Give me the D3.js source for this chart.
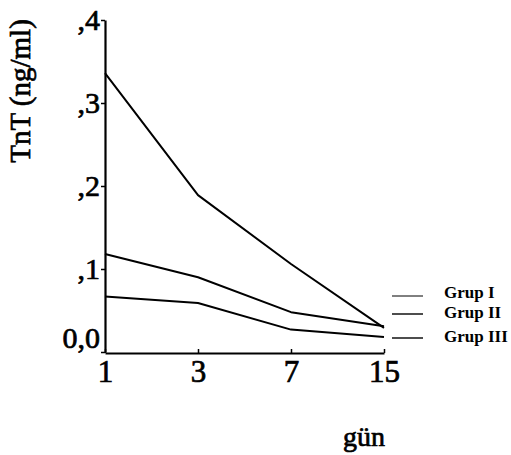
<!DOCTYPE html>
<html><head><meta charset="utf-8">
<script src="https://cdn.jsdelivr.net/npm/d3@7"></script>
<style>body{margin:0;background:#fff}svg{display:block}</style>
</head><body>
<script>
const days = ["1","3","7","15"];
const grup1 = [0.336, 0.189, 0.106, 0.029];
const grup2 = [0.118, 0.090, 0.048, 0.031];
const grup3 = [0.067, 0.059, 0.027, 0.018];
const seriesNames = ["Grup I","Grup II","Grup III"];
const yTicks = [0, 0.1, 0.2, 0.3, 0.4];
const yTickLabels = ["0,0", ",1", ",2", ",3", ",4"];

const W = 511, H = 455;
const svg = d3.select("body").append("svg").attr("width", W).attr("height", H);
const font = "'Liberation Serif', 'Times New Roman', serif";

const x = d3.scalePoint().domain(days).range([105, 384]);
const y = d3.scaleLinear().domain([0, 0.4]).range([352, 20]);

function heavy(sel, size){
  sel.style("font-family",font).style("font-size",size+"px").style("font-weight","normal")
    .attr("fill","#000").attr("stroke","#000").attr("stroke-width",0.7);
}

// y axis
const yAxis = svg.append("g").attr("transform", "translate(105,0)")
  .call(d3.axisLeft(y).tickValues(yTicks).tickFormat((d,i)=>yTickLabels[i]).tickSize(4).tickSizeOuter(0));
yAxis.select(".domain").attr("stroke","#000").attr("stroke-width",2.2);
yAxis.selectAll(".tick line").attr("stroke","#000").attr("stroke-width",1.5);
heavy(yAxis.selectAll(".tick text"), 30);
yAxis.selectAll(".tick text").attr("x",-5)
  .attr("dy",(d)=> d===0 ? "-0.15em" : "0.32em");

// x axis
const xAxis = svg.append("g").attr("transform", "translate(0,353)")
  .call(d3.axisBottom(x).tickSize(-4).tickSizeOuter(0));
xAxis.select(".domain").attr("stroke","#000").attr("stroke-width",2.2);
xAxis.selectAll(".tick line").attr("stroke","#000").attr("stroke-width",1.5);
heavy(xAxis.selectAll(".tick text"), 31);
xAxis.selectAll(".tick text").attr("y",7).attr("dy","0.71em");

// lines
const line = d3.line().x((d,i)=>x(days[i])).y(d=>y(d));
[grup1, grup2, grup3].forEach(s=>{
  svg.append("path").datum(s).attr("d", line).attr("fill","none")
    .attr("stroke","#000").attr("stroke-width",2).attr("stroke-linejoin","round");
});

// legend
const legY = [296, 314, 338];
const legTextY = [298, 318, 342];
seriesNames.forEach((n,i)=>{
  svg.append("line").attr("x1",392).attr("x2",423).attr("y1",legY[i]).attr("y2",legY[i])
    .attr("stroke","#000").attr("stroke-width", i===0?1:1.4);
  svg.append("text").attr("x",444).attr("y",legTextY[i]).text(n)
    .style("font-family",font).style("font-size","17px").style("font-weight","bold").attr("fill","#000");
});

// axis titles
heavy(svg.append("text").attr("transform","translate(30,91) rotate(-90)").attr("text-anchor","middle")
  .text("TnT (ng/ml)"), 29);
heavy(svg.append("text").attr("x",364).attr("y",446).attr("text-anchor","middle")
  .text("gün"), 28);
</script>
</body></html>
